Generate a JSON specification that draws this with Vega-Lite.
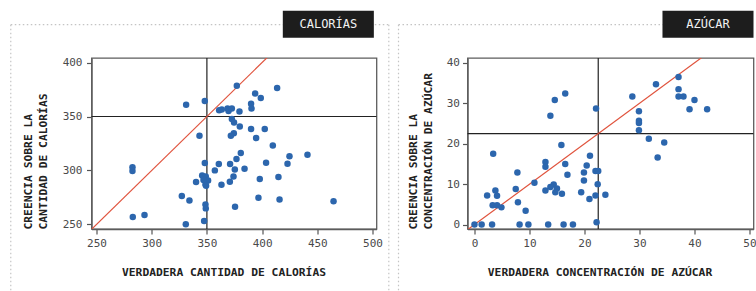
{
  "$schema": "https://vega.github.io/schema/vega-lite/v6.json",
  "padding": {"left": 9.5, "top": 10, "right": 0, "bottom": 0},
  "spacing": 6,
  "config": {
    "font": "DejaVu Sans Mono",
    "view": {"stroke": "#5c5c5c", "strokeWidth": 1.3},
    "axis": {
      "labelFont": "DejaVu Sans Mono", "labelFontSize": 11, "labelColor": "#4a4a4a",
      "tickColor": "#555", "tickSize": 5, "tickWidth": 1.2, "labelPadding": 3,
      "domainColor": "#5c5c5c", "domainWidth": 1.3, "grid": false,
      "titleFont": "DejaVu Sans Mono", "titleFontSize": 11.3, "titleFontWeight": "bold", "titleColor": "#222"
    },
    "axisX": {"titlePadding": 18, "titleX": 132},
    "axisY": {"titlePadding": 13, "titleAnchor": "start", "titleLineHeight": 15}
  },
  "datasets": {
    "cal": [
      {"verdadera": 377.1, "creencia": 378.5}, {"verdadera": 413.6, "creencia": 376.4}, {"verdadera": 393.7, "creencia": 371.4},
      {"verdadera": 398.8, "creencia": 367.1}, {"verdadera": 390, "creencia": 361.9}, {"verdadera": 390.4, "creencia": 357.5},
      {"verdadera": 331.2, "creencia": 360.9}, {"verdadera": 348.1, "creencia": 364.4}, {"verdadera": 361.1, "creencia": 355.7},
      {"verdadera": 363.5, "creencia": 356.6}, {"verdadera": 368.7, "creencia": 357.5}, {"verdadera": 369.6, "creencia": 355.1},
      {"verdadera": 372.6, "creencia": 357.5}, {"verdadera": 379.5, "creencia": 354.7}, {"verdadera": 372.6, "creencia": 347.7},
      {"verdadera": 374.6, "creencia": 344.5}, {"verdadera": 379.8, "creencia": 340.8}, {"verdadera": 390, "creencia": 338.4},
      {"verdadera": 402.4, "creencia": 338.4}, {"verdadera": 374.4, "creencia": 334.4}, {"verdadera": 371.7, "creencia": 332.2},
      {"verdadera": 343.3, "creencia": 332.2}, {"verdadera": 394.6, "creencia": 330.1}, {"verdadera": 409.7, "creencia": 323.2},
      {"verdadera": 380.7, "creencia": 316.2}, {"verdadera": 403.6, "creencia": 307.2}, {"verdadera": 376.8, "creencia": 310.6},
      {"verdadera": 348.1, "creencia": 306.9}, {"verdadera": 360.8, "creencia": 306}, {"verdadera": 371, "creencia": 306},
      {"verdadera": 384.1, "creencia": 301.7}, {"verdadera": 375.3, "creencia": 301}, {"verdadera": 357.2, "creencia": 300.1},
      {"verdadera": 345.7, "creencia": 295.4}, {"verdadera": 349, "creencia": 294.5}, {"verdadera": 351.1, "creencia": 290.8},
      {"verdadera": 346.9, "creencia": 291.2}, {"verdadera": 340.2, "creencia": 289.3}, {"verdadera": 348.7, "creencia": 287.1},
      {"verdadera": 349.3, "creencia": 285.9}, {"verdadera": 363.2, "creencia": 286.8}, {"verdadera": 370.8, "creencia": 289.6},
      {"verdadera": 374.1, "creencia": 294.5}, {"verdadera": 397.9, "creencia": 292.1}, {"verdadera": 414.8, "creencia": 294},
      {"verdadera": 282.6, "creencia": 302.9}, {"verdadera": 282.6, "creencia": 299.5}, {"verdadera": 327.3, "creencia": 276.4},
      {"verdadera": 334.2, "creencia": 272.3}, {"verdadera": 348.7, "creencia": 268.6}, {"verdadera": 349, "creencia": 264.9},
      {"verdadera": 375.5, "creencia": 266.5}, {"verdadera": 396.7, "creencia": 274.8}, {"verdadera": 415.8, "creencia": 273.2},
      {"verdadera": 282.9, "creencia": 256.9}, {"verdadera": 293.5, "creencia": 258.8}, {"verdadera": 330.9, "creencia": 250.1},
      {"verdadera": 347.5, "creencia": 253.2}, {"verdadera": 464.7, "creencia": 271.4}, {"verdadera": 441.1, "creencia": 314.6},
      {"verdadera": 424.8, "creencia": 313.1}, {"verdadera": 423, "creencia": 306.3}
    ],
    "azu": [
      {"verdadera": 37.1, "creencia": 36.5}, {"verdadera": 33.0, "creencia": 34.7}, {"verdadera": 37.1, "creencia": 33.5},
      {"verdadera": 37.1, "creencia": 31.7}, {"verdadera": 38.0, "creencia": 31.7}, {"verdadera": 40.0, "creencia": 30.8},
      {"verdadera": 39.1, "creencia": 28.5}, {"verdadera": 42.3, "creencia": 28.5}, {"verdadera": 28.7, "creencia": 31.7},
      {"verdadera": 29.9, "creencia": 28.0}, {"verdadera": 29.9, "creencia": 25.7}, {"verdadera": 29.9, "creencia": 25.1},
      {"verdadera": 29.9, "creencia": 23.3}, {"verdadera": 31.7, "creencia": 21.2}, {"verdadera": 34.5, "creencia": 20.3},
      {"verdadera": 33.3, "creencia": 16.6}, {"verdadera": 16.5, "creencia": 32.4}, {"verdadera": 14.6, "creencia": 30.8},
      {"verdadera": 13.8, "creencia": 26.9}, {"verdadera": 22.1, "creencia": 28.7}, {"verdadera": 15.8, "creencia": 19.7},
      {"verdadera": 3.4, "creencia": 17.5}, {"verdadera": 21.0, "creencia": 17.0}, {"verdadera": 12.9, "creencia": 15.5},
      {"verdadera": 12.9, "creencia": 14.3}, {"verdadera": 16.5, "creencia": 15.0}, {"verdadera": 20.4, "creencia": 14.6},
      {"verdadera": 7.8, "creencia": 12.9}, {"verdadera": 16.9, "creencia": 12.3}, {"verdadera": 19.9, "creencia": 12.9},
      {"verdadera": 22.0, "creencia": 13.25}, {"verdadera": 22.5, "creencia": 13.25}, {"verdadera": 19.9, "creencia": 10.9},
      {"verdadera": 10.9, "creencia": 10.35}, {"verdadera": 14.4, "creencia": 9.9}, {"verdadera": 13.8, "creencia": 9.3},
      {"verdadera": 15.0, "creencia": 8.9}, {"verdadera": 12.9, "creencia": 8.4}, {"verdadera": 14.7, "creencia": 8.0},
      {"verdadera": 15.9, "creencia": 7.6}, {"verdadera": 19.4, "creencia": 8.0}, {"verdadera": 7.5, "creencia": 8.8},
      {"verdadera": 22.4, "creencia": 10.0}, {"verdadera": 22.0, "creencia": 7.2}, {"verdadera": 23.8, "creencia": 7.4},
      {"verdadera": 20.9, "creencia": 6.3}, {"verdadera": 3.8, "creencia": 8.4}, {"verdadera": 4.1, "creencia": 7.1},
      {"verdadera": 2.3, "creencia": 7.2}, {"verdadera": 3.3, "creencia": 4.8}, {"verdadera": 4.1, "creencia": 4.8},
      {"verdadera": 4.9, "creencia": 4.25}, {"verdadera": 7.9, "creencia": 5.5}, {"verdadera": 9.3, "creencia": 3.4},
      {"verdadera": 22.2, "creencia": 0.55}, {"verdadera": 0, "creencia": 0}, {"verdadera": 1.3, "creencia": 0},
      {"verdadera": 3.2, "creencia": 0}, {"verdadera": 8.2, "creencia": 0}, {"verdadera": 9.8, "creencia": 0},
      {"verdadera": 13.4, "creencia": 0}, {"verdadera": 16.2, "creencia": 0}, {"verdadera": 17.9, "creencia": 0}
    ],
    "diag_cal": [{"v": 240}, {"v": 410}],
    "diag_azu": [{"v": -3}, {"v": 45}]
  },
  "hconcat": [
    {
      "width": 285,
      "height": 171,
      "layer": [
        {
          "data": {"values": [{}]},
          "mark": {"type": "rule", "color": "#c4c4c4", "strokeDash": [1.5, 2.5], "strokeWidth": 1.2},
          "encoding": {
            "x": {"datum": 172.4, "type": "quantitative",
              "scale": {"domain": [245.5, 503.6], "nice": false, "zero": false},
              "axis": {"title": "VERDADERA CANTIDAD DE CALORÍAS", "values": [250, 300, 350, 400, 450, 500]}},
            "x2": {"datum": 514.75},
            "y": {"datum": 435.05, "type": "quantitative",
              "scale": {"domain": [245.8, 404.2], "nice": false, "zero": false},
              "axis": {"title": ["CREENCIA SOBRE LA", "CANTIDAD DE CALORÍAS"], "values": [250, 300, 350, 400], "labelPadding": 4.5, "titlePadding": 14}}
          }
        },
        {
          "data": {"values": [{}]},
          "mark": {"type": "rule", "color": "#c4c4c4", "strokeDash": [1.5, 2.5], "strokeWidth": 1.2},
          "encoding": {
            "x": {"datum": 172.4, "type": "quantitative"},
            "y": {"datum": 435.05, "type": "quantitative"},
            "y2": {"datum": 188.2}
          }
        },
        {
          "data": {"values": [{}]},
          "mark": {"type": "rule", "color": "#c4c4c4", "strokeDash": [1.5, 2.5], "strokeWidth": 1.2},
          "encoding": {
            "x": {"datum": 514.75, "type": "quantitative"},
            "y": {"datum": 435.05, "type": "quantitative"},
            "y2": {"datum": 188.2}
          }
        },
        {
          "data": {"values": [{}]},
          "mark": {"type": "rule", "color": "#222", "strokeWidth": 1.2},
          "encoding": {"x": {"datum": 350, "type": "quantitative"}}
        },
        {
          "data": {"values": [{}]},
          "mark": {"type": "rule", "color": "#222", "strokeWidth": 1.2},
          "encoding": {"y": {"datum": 350, "type": "quantitative"}}
        },
        {
          "data": {"name": "diag_cal"},
          "mark": {"type": "line", "color": "#e0533d", "strokeWidth": 1.2, "clip": true},
          "encoding": {
            "x": {"field": "v", "type": "quantitative"},
            "y": {"field": "v", "type": "quantitative"}
          }
        },
        {
          "data": {"name": "cal"},
          "mark": {"type": "circle", "size": 42, "color": "#2c66ad", "opacity": 1},
          "encoding": {
            "x": {"field": "verdadera", "type": "quantitative"},
            "y": {"field": "creencia", "type": "quantitative"}
          }
        },
        {
          "data": {"values": [{}]},
          "mark": {"type": "rect", "color": "#1d1d1d"},
          "encoding": {
            "x": {"datum": 418.75, "type": "quantitative"},
            "x2": {"datum": 501.2},
            "y": {"datum": 448.0, "type": "quantitative"},
            "y2": {"datum": 423.0}
          }
        },
        {
          "data": {"values": [{}]},
          "mark": {"type": "text", "color": "#f2f2f2", "font": "DejaVu Sans Mono", "fontSize": 12, "align": "center", "baseline": "middle"},
          "encoding": {
            "x": {"datum": 460.0, "type": "quantitative"},
            "y": {"datum": 435.5, "type": "quantitative"},
            "text": {"value": "CALORÍAS"}
          }
        }
      ]
    },
    {
      "width": 286,
      "height": 171,
      "layer": [
        {
          "data": {"values": [{}]},
          "mark": {"type": "rule", "color": "#c4c4c4", "strokeDash": [1.5, 2.5], "strokeWidth": 1.2},
          "encoding": {
            "x": {"datum": -13.815, "type": "quantitative",
              "scale": {"domain": [-1.27, 50.73], "nice": false, "zero": false},
              "axis": {"title": "VERDADERA CONCENTRACIÓN DE AZÚCAR", "values": [0, 10, 20, 30, 40, 50]}},
            "x2": {"datum": 50.9},
            "y": {"datum": 49.44, "type": "quantitative",
              "scale": {"domain": [-1.1, 41.2], "nice": false, "zero": false},
              "axis": {"title": ["CREENCIA SOBRE LA", "CONCENTRACIÓN DE AZÚCAR"], "values": [0, 10, 20, 30, 40]}}
          }
        },
        {
          "data": {"values": [{}]},
          "mark": {"type": "rule", "color": "#c4c4c4", "strokeDash": [1.5, 2.5], "strokeWidth": 1.2},
          "encoding": {
            "x": {"datum": -13.815, "type": "quantitative"},
            "y": {"datum": 49.44, "type": "quantitative"},
            "y2": {"datum": -16.49}
          }
        },
        {
          "data": {"values": [{}]},
          "mark": {"type": "rule", "color": "#222", "strokeWidth": 1.2},
          "encoding": {"x": {"datum": 22.5, "type": "quantitative"}}
        },
        {
          "data": {"values": [{}]},
          "mark": {"type": "rule", "color": "#222", "strokeWidth": 1.2},
          "encoding": {"y": {"datum": 22.5, "type": "quantitative"}}
        },
        {
          "data": {"name": "diag_azu"},
          "mark": {"type": "line", "color": "#e0533d", "strokeWidth": 1.2, "clip": true},
          "encoding": {
            "x": {"field": "v", "type": "quantitative"},
            "y": {"field": "v", "type": "quantitative"}
          }
        },
        {
          "data": {"name": "azu"},
          "mark": {"type": "circle", "size": 42, "color": "#2c66ad", "opacity": 1},
          "encoding": {
            "x": {"field": "verdadera", "type": "quantitative"},
            "y": {"field": "creencia", "type": "quantitative"}
          }
        },
        {
          "data": {"values": [{}]},
          "mark": {"type": "rect", "color": "#1d1d1d"},
          "encoding": {
            "x": {"datum": 34.18, "type": "quantitative"},
            "x2": {"datum": 50.73},
            "y": {"datum": 52.9, "type": "quantitative"},
            "y2": {"datum": 46.22}
          }
        },
        {
          "data": {"values": [{}]},
          "mark": {"type": "text", "color": "#f2f2f2", "font": "DejaVu Sans Mono", "fontSize": 12, "align": "center", "baseline": "middle"},
          "encoding": {
            "x": {"datum": 42.46, "type": "quantitative"},
            "y": {"datum": 49.56, "type": "quantitative"},
            "text": {"value": "AZÚCAR"}
          }
        }
      ]
    }
  ]
}
